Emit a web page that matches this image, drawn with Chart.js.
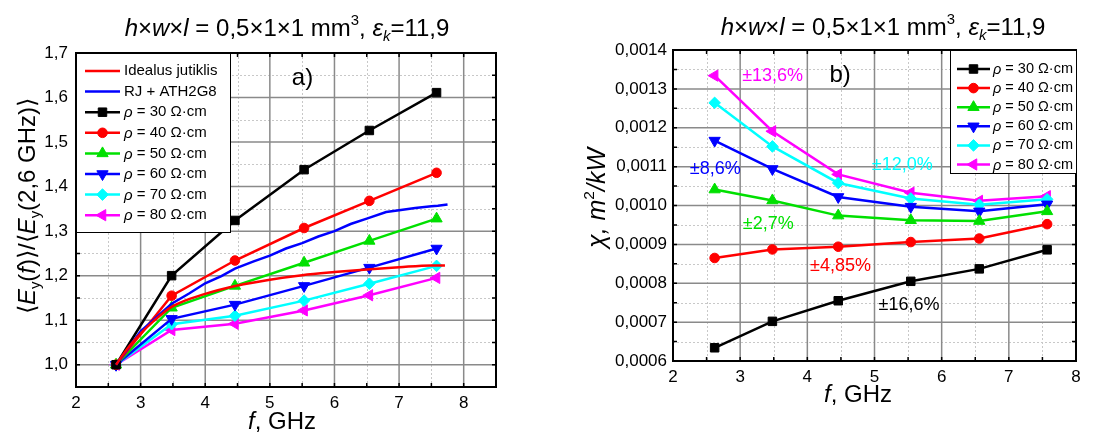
<!DOCTYPE html>
<html>
<head>
<meta charset="utf-8">
<title>Jutiklio charakteristikos</title>
<script src="https://cdn.jsdelivr.net/npm/chart.js@4.4.0/dist/chart.umd.min.js"></script>
<style>
  body { margin: 0; background: #fff; }
  #wrap { position: relative; width: 1106px; height: 432px; }
  .box { position: absolute; top: 0; width: 553px; height: 432px; }
  #boxA { left: 0; }
  #boxB { left: 553px; }
</style>
</head>
<body>
<div id="wrap">
  <div class="box" id="boxA"><canvas id="chartA"></canvas></div>
  <div class="box" id="boxB"><canvas id="chartB"></canvas></div>
</div>
<script>
// measured frequencies, GHz
const freqA = [2.62, 3.48, 4.46, 5.53, 6.54, 7.58];
const freqB = [2.62, 3.48, 4.46, 5.54, 6.56, 7.57];

const rhoLabels = ['ρ = 30 Ω·cm', 'ρ = 40 Ω·cm', 'ρ = 50 Ω·cm',
                   'ρ = 60 Ω·cm', 'ρ = 70 Ω·cm', 'ρ = 80 Ω·cm'];

// tick values
const ticksXA = [2, 3, 4, 5, 6, 7, 8];
const ticksYA = [1.0, 1.1, 1.2, 1.3, 1.4, 1.5, 1.6, 1.7];
const ticksXB = [2, 3, 4, 5, 6, 7, 8];
const ticksYB = [0.0006, 0.0007, 0.0008, 0.0009, 0.0010, 0.0011, 0.0012, 0.0013, 0.0014];

// a) <Ey(f)>/<Ey(2,6 GHz)>
const normRho30 = [1.000, 1.200, 1.324, 1.438, 1.526, 1.611];
const normRho40 = [1.000, 1.155, 1.234, 1.307, 1.368, 1.431];
const normRho50 = [1.000, 1.128, 1.177, 1.229, 1.278, 1.328];
const normRho60 = [1.000, 1.103, 1.135, 1.177, 1.218, 1.261];
const normRho70 = [1.000, 1.091, 1.110, 1.144, 1.182, 1.222];
const normRho80 = [1.000, 1.078, 1.092, 1.122, 1.156, 1.195];

// ideal sensor and RJ + ATH2G8 curves
const idealF = [2.62, 2.8, 3.0, 3.2, 3.48, 4.0, 4.5, 5.0, 5.5, 6.0, 6.5, 7.0, 7.5, 7.71];
const idealV = [1.0, 1.037, 1.070, 1.098, 1.130, 1.159, 1.178, 1.191, 1.201, 1.208, 1.214, 1.219, 1.223, 1.223];
const rjF = [2.62, 3.0, 3.48, 3.75, 4.0, 4.25, 4.46, 4.75, 5.0, 5.25, 5.5, 5.75, 6.0, 6.25, 6.5, 6.8, 7.0, 7.25, 7.5, 7.6, 7.75];
const rjV = [1.0, 1.075, 1.137, 1.160, 1.183, 1.199, 1.216, 1.232, 1.245, 1.261, 1.273, 1.288, 1.300, 1.316, 1.328, 1.343, 1.347, 1.352, 1.356, 1.357, 1.360];

// b) chi, m^2/kW
const chiRho30 = [0.000634, 0.000702, 0.000755, 0.000805, 0.000837, 0.000886];
const chiRho40 = [0.000865, 0.000887, 0.000894, 0.000906, 0.000915, 0.000952];
const chiRho50 = [0.001041, 0.001013, 0.000974, 0.000962, 0.000960, 0.000985];
const chiRho60 = [0.001167, 0.001094, 0.001022, 0.000997, 0.000985, 0.001003];
const chiRho70 = [0.001264, 0.001152, 0.001058, 0.001018, 0.001002, 0.001016];
const chiRho80 = [0.001334, 0.001191, 0.001080, 0.001033, 0.001012, 0.001024];

const FONT = 'Arial, "Liberation Sans", sans-serif';
const colors = ['#000000', '#ff0000', '#00e000', '#0000ff', '#00ffff', '#ff00ff'];
const markers = [
  { pointStyle: 'rect', radius: 6, rotation: 0 },
  { pointStyle: 'circle', radius: 4.8, rotation: 0 },
  { pointStyle: 'triangle', radius: 6.5, rotation: 0 },
  { pointStyle: 'triangle', radius: 6.5, rotation: 180 },
  { pointStyle: 'rectRot', radius: 5.8, rotation: 0 },
  { pointStyle: 'triangle', radius: 6.5, rotation: -90 }
];

Chart.defaults.font.family = FONT;
Chart.defaults.color = '#000';

function pts(xs, ys) {
  return xs.map((x, i) => ({ x: x, y: ys[i] }));
}

function rhoSets(xs, series) {
  return series.map((ys, i) => ({
    label: rhoLabels[i],
    data: pts(xs, ys),
    borderColor: colors[i],
    backgroundColor: colors[i],
    borderWidth: 2.5,
    pointStyle: markers[i].pointStyle,
    pointRadius: markers[i].radius,
    pointRotation: markers[i].rotation,
    pointBorderWidth: 1,
    tension: 0
  }));
}

// text with italic / sub / sup pieces
function richText(ctx, parts, x, y, size, align) {
  let w = 0;
  const items = parts.map(p => {
    const st = p[1] || '';
    const small = st.includes('s') || st.includes('p');
    const fs = small ? size * 0.62 : size;
    const font = (st.includes('i') ? 'italic ' : '') + fs + 'px ' + FONT;
    ctx.font = font;
    const tw = ctx.measureText(p[0]).width;
    let dy = 0;
    if (st.includes('s')) dy = size * 0.2;
    if (st.includes('p')) dy = -size * 0.45;
    const it = { t: p[0], font: font, dx: w, dy: dy };
    w += tw;
    return it;
  });
  const x0 = align === 'center' ? x - w / 2 : x;
  ctx.textAlign = 'left';
  ctx.textBaseline = 'alphabetic';
  items.forEach(it => { ctx.font = it.font; ctx.fillText(it.t, x0 + it.dx, y + it.dy); });
}

const titleParts = [['h', 'i'], ['×'], ['w', 'i'], ['×'], ['l', 'i'], [' = 0,5×1×1 mm'], ['3', 'p'],
                    [', '], ['ε', 'i'], ['k', 'is'], ['=11,9']];

function marker(ctx, m, x, y, color) {
  ctx.fillStyle = color;
  ctx.strokeStyle = color;
  ctx.lineWidth = 1;
  Chart.helpers.drawPoint(ctx, { pointStyle: m.pointStyle, radius: m.radius, rotation: m.rotation, borderWidth: 1 }, x, y);
}

// grid, frame, legend, titles and notes
const decor = {
  id: 'decor',
  beforeDatasetsDraw(chart, args, o) {
    const ctx = chart.ctx, a = chart.chartArea;
    const xs = chart.scales.x, ys = chart.scales.y;
    ctx.save();
    // minor dotted
    ctx.strokeStyle = '#c8c8c8';
    ctx.lineWidth = 1;
    ctx.setLineDash([2, 2]);
    for (let v = o.xMin + o.xMinor; v < o.xMax - 1e-9; v += o.xMajor) {
      const p = Math.round(xs.getPixelForValue(v)) + 0.5;
      ctx.beginPath(); ctx.moveTo(p, a.top); ctx.lineTo(p, a.bottom); ctx.stroke();
    }
    for (let v = o.yFirstMinor; v < o.yMax - 1e-12; v += o.yMajor) {
      const p = Math.round(ys.getPixelForValue(v)) + 0.5;
      ctx.beginPath(); ctx.moveTo(a.left, p); ctx.lineTo(a.right, p); ctx.stroke();
    }
    // major solid
    ctx.setLineDash([]);
    ctx.strokeStyle = '#8a8a8a';
    ctx.lineWidth = 1.5;
    for (let v = o.xMin + o.xMajor; v < o.xMax - 1e-9; v += o.xMajor) {
      const p = xs.getPixelForValue(v);
      ctx.beginPath(); ctx.moveTo(p, a.top); ctx.lineTo(p, a.bottom); ctx.stroke();
    }
    for (let v = o.yFirstMajor; v < o.yMax - 1e-12; v += o.yMajor) {
      const p = ys.getPixelForValue(v);
      ctx.beginPath(); ctx.moveTo(a.left, p); ctx.lineTo(a.right, p); ctx.stroke();
    }
    ctx.restore();
  },
  afterDatasetsDraw(chart, args, o) {
    const ctx = chart.ctx, a = chart.chartArea;
    const xs = chart.scales.x, ys = chart.scales.y;
    ctx.save();
    // inward ticks
    ctx.strokeStyle = '#000';
    ctx.lineWidth = 1.5;
    for (let v = o.xMin + o.xMinor; v < o.xMax - 1e-9; v += o.xMinor) {
      const p = xs.getPixelForValue(v);
      ctx.beginPath();
      ctx.moveTo(p, a.bottom); ctx.lineTo(p, a.bottom - 4);
      ctx.moveTo(p, a.top); ctx.lineTo(p, a.top + 4);
      ctx.stroke();
    }
    for (let v = o.yFirstMinor - o.yMajor / 2; v < o.yMax - 1e-12; v += o.yMajor / 2) {
      if (v <= o.yMin + 1e-12) continue;
      const p = ys.getPixelForValue(v);
      ctx.beginPath();
      ctx.moveTo(a.left, p); ctx.lineTo(a.left + 4, p);
      ctx.moveTo(a.right, p); ctx.lineTo(a.right - 4, p);
      ctx.stroke();
    }
    // frame
    ctx.lineWidth = 2;
    ctx.strokeRect(a.left, a.top, a.right - a.left, a.bottom - a.top);

    // notes inside the plot
    o.notes.forEach(n => {
      ctx.fillStyle = n.color;
      ctx.font = n.size + 'px ' + FONT;
      ctx.textAlign = 'left';
      ctx.textBaseline = 'middle';
      ctx.fillText(n.text, xs.getPixelForValue(n.x), ys.getPixelForValue(n.y));
    });

    // legend box
    const L = o.legend;
    ctx.fillStyle = '#fff';
    ctx.fillRect(L.x, L.y, L.w, L.h);
    ctx.strokeStyle = '#000';
    ctx.lineWidth = 1;
    ctx.strokeRect(L.x + 0.5, L.y + 0.5, L.w, L.h);
    chart.data.datasets.forEach((ds, i) => {
      const ry = L.y + L.first + i * L.step;
      ctx.strokeStyle = ds.borderColor;
      ctx.lineWidth = 2.5;
      ctx.beginPath();
      ctx.moveTo(L.x + L.lineX0, ry); ctx.lineTo(L.x + L.lineX1, ry);
      ctx.stroke();
      if (ds.pointRadius > 0) {
        marker(ctx, { pointStyle: ds.pointStyle, radius: ds.pointRadius, rotation: ds.pointRotation },
               L.x + (L.lineX0 + L.lineX1) / 2, ry, ds.borderColor);
      }
      ctx.fillStyle = '#000';
      ctx.textAlign = 'left';
      ctx.textBaseline = 'middle';
      const lab = ds.label;
      let tx = L.x + L.textX;
      if (lab.startsWith('ρ')) {
        ctx.font = 'italic ' + L.font + 'px ' + FONT;
        ctx.fillText('ρ', tx, ry + 1);
        tx += ctx.measureText('ρ').width;
        ctx.font = L.font + 'px ' + FONT;
        ctx.fillText(lab.slice(1), tx, ry);
      } else {
        ctx.font = L.font + 'px ' + FONT;
        ctx.fillText(lab, tx, ry);
      }
    });

    ctx.restore();
  },
  afterDraw(chart, args, o) {
    const ctx = chart.ctx;
    ctx.save();
    ctx.fillStyle = '#000';
    richText(ctx, titleParts, o.titleX, o.titleY, 24, 'center');
    richText(ctx, [['f', 'i'], [', GHz']], o.xTitleX, o.xTitleY, 24, 'center');
    ctx.translate(o.yTitleX, o.yTitleY);
    ctx.rotate(-Math.PI / 2);
    richText(ctx, o.yTitle, 0, 0, o.yTitleSize, 'center');
    ctx.restore();
  }
};

// ---- chart a)
const setsA = [
  { label: 'Idealus jutiklis', data: pts(idealF, idealV), borderColor: '#ff0000', backgroundColor: '#ff0000',
    borderWidth: 2.5, pointRadius: 0, cubicInterpolationMode: 'monotone' },
  { label: 'RJ + ATH2G8', data: pts(rjF, rjV), borderColor: '#0000ff', backgroundColor: '#0000ff',
    borderWidth: 2.5, pointRadius: 0, tension: 0 }
].concat(rhoSets(freqA, [normRho30, normRho40, normRho50, normRho60, normRho70, normRho80]));

new Chart(document.getElementById('chartA'), {
  type: 'line',
  data: { datasets: setsA },
  options: {
    responsive: true,
    maintainAspectRatio: false,
    animation: false,
    layout: { padding: { left: 0, top: 53, right: 57, bottom: 0 } },
    plugins: {
      legend: { display: false },
      tooltip: { enabled: false },
      decor: {
        xMin: 2, xMax: 8.5, xMajor: 1, xMinor: 0.5,
        yMin: 0.95, yMax: 1.7, yMajor: 0.1, yFirstMajor: 1.0, yFirstMinor: 1.05,
        titleX: 287, titleY: 36,
        xTitleX: 282, xTitleY: 429,
        yTitleX: 35, yTitleY: 206, yTitleSize: 24,
        yTitle: [['⟨'], ['E', 'i'], ['y', 's'], ['('], ['f', 'i'], [')⟩/⟨'], ['E', 'i'], ['y', 's'], ['(2,6 GHz)⟩']],
        notes: [{ text: 'a)', x: 5.34, y: 1.642, color: '#000', size: 24 }],
        legend: { x: 76, y: 53, w: 154, h: 179, first: 18, step: 20.6, lineX0: 9, lineX1: 44, textX: 48, font: 15 }
      }
    },
    scales: {
      x: {
        type: 'linear', min: 2, max: 8.5,
        grid: { display: false, drawTicks: false }, border: { display: false },
        afterFit(s) { s.height = 45; },
        afterBuildTicks(s) { s.ticks = ticksXA.map(v => ({ value: v })); },
        ticks: { padding: 6, font: { size: 17 }, maxRotation: 0, autoSkip: false, callback: v => String(v) }
      },
      y: {
        type: 'linear', min: 0.95, max: 1.7,
        grid: { display: false, drawTicks: false }, border: { display: false },
        afterFit(s) { s.width = 76; },
        afterBuildTicks(s) { s.ticks = ticksYA.map(v => ({ value: v })); },
        ticks: { padding: 8, font: { size: 17 }, autoSkip: false, callback: v => v.toFixed(1).replace('.', ',') }
      }
    }
  },
  plugins: [decor]
});

// ---- chart b)
const setsB = rhoSets(freqB, [chiRho30, chiRho40, chiRho50, chiRho60, chiRho70, chiRho80]);

new Chart(document.getElementById('chartB'), {
  type: 'line',
  data: { datasets: setsB },
  options: {
    responsive: true,
    maintainAspectRatio: false,
    animation: false,
    layout: { padding: { left: 0, top: 50, right: 30, bottom: 0 } },
    plugins: {
      legend: { display: false },
      tooltip: { enabled: false },
      decor: {
        xMin: 2, xMax: 8, xMajor: 1, xMinor: 0.5,
        yMin: 0.0006, yMax: 0.0014, yMajor: 0.0001, yFirstMajor: 0.0007, yFirstMinor: 0.00065,
        titleX: 330, titleY: 35,
        xTitleX: 305, xTitleY: 402,
        yTitleX: 52, yTitleY: 198, yTitleSize: 25,
        yTitle: [['χ, m', 'i'], ['2', 'p'], ['/kW', 'i']],
        notes: [
          { text: '±13,6%', x: 3.03, y: 0.001333, color: '#ff00ff', size: 18 },
          { text: 'b)', x: 4.33, y: 0.001336, color: '#000', size: 24 },
          { text: '±8,6%', x: 2.25, y: 0.001093, color: '#0000ff', size: 18 },
          { text: '±12,0%', x: 4.96, y: 0.001104, color: '#00ffff', size: 18 },
          { text: '±2,7%', x: 3.04, y: 0.000952, color: '#00e000', size: 18 },
          { text: '±4,85%', x: 4.04, y: 0.000845, color: '#ff0000', size: 18 },
          { text: '±16,6%', x: 5.06, y: 0.000743, color: '#000', size: 18 }
        ],
        legend: { x: 397, y: 50, w: 126, h: 123, first: 19, step: 19.1, lineX0: 7, lineX1: 40, textX: 43, font: 14.5 }
      }
    },
    scales: {
      x: {
        type: 'linear', min: 2, max: 8,
        grid: { display: false, drawTicks: false }, border: { display: false },
        afterFit(s) { s.height = 71; },
        afterBuildTicks(s) { s.ticks = ticksXB.map(v => ({ value: v })); },
        ticks: { padding: 6, font: { size: 17 }, maxRotation: 0, autoSkip: false, callback: v => String(v) }
      },
      y: {
        type: 'linear', min: 0.0006, max: 0.0014,
        grid: { display: false, drawTicks: false }, border: { display: false },
        afterFit(s) { s.width = 120; },
        afterBuildTicks(s) { s.ticks = ticksYB.map(v => ({ value: v })); },
        ticks: { padding: 6, font: { size: 17 }, autoSkip: false, callback: v => v.toFixed(4).replace('.', ',') }
      }
    }
  },
  plugins: [decor]
});
</script>
</body>
</html>
